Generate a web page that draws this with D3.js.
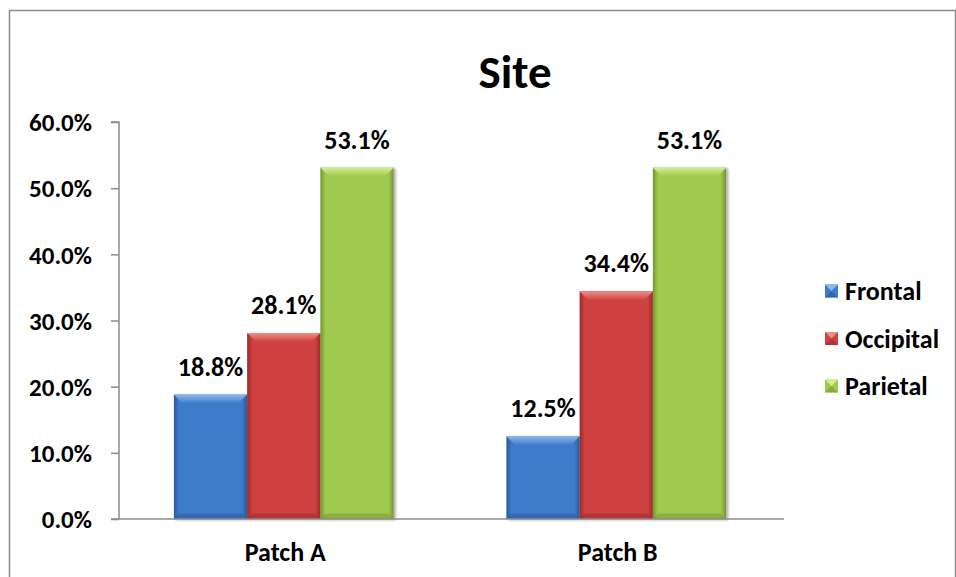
<!DOCTYPE html>
<html>
<head>
<meta charset="utf-8">
<script src="https://cdn.jsdelivr.net/npm/d3@7"></script>
<style>
  html, body { margin: 0; padding: 0; background: #fff; }
  svg text { font-family: Carlito, Calibri, Lato, "Open Sans", sans-serif; font-weight: bold; fill: #000; }
</style>
</head>
<body>
<svg id="chart" width="956" height="577"></svg>
<script>
const categories = ["Patch A", "Patch B"];
const seriesNames = ["Frontal", "Occipital", "Parietal"];
const frontal = [18.8, 12.5];
const occipital = [28.1, 34.4];
const parietal = [53.1, 53.1];
const yTicks = [0, 10, 20, 30, 40, 50, 60];
const seriesValues = [frontal, occipital, parietal];
const palette = {
  Frontal:   { base: "#3d7cc9", light: "#8fb8ec", dark: "#2a5a97" },
  Occipital: { base: "#cf4040", light: "#ec8e8a", dark: "#9a2b2b" },
  Parietal:  { base: "#9fc94f", light: "#d4ee8f", dark: "#749633" }
};
const labelSize = 26;

const svg = d3.select("#chart");
const defs = svg.append("defs");

// chart frame
svg.append("path")
  .attr("d", "M9.5,577 L9.5,10.5 L955.5,10.5 L955.5,577")
  .attr("fill", "none").attr("stroke", "#8c8c8c").attr("stroke-width", 1.5);

const plot = { left: 119, right: 784, top: 122, bottom: 519 };

const x0 = d3.scaleBand().domain(categories).range([plot.left, plot.right]).paddingInner(0).paddingOuter(0);
const x1 = d3.scaleBand().domain(seriesNames).range([0, x0.bandwidth()]).paddingInner(0).paddingOuter(0.77);
const y = d3.scaleLinear().domain([0, 60]).range([plot.bottom, plot.top]);

// gradients for bevelled bars
seriesNames.forEach(name => {
  const c = palette[name];
  const h = defs.append("linearGradient").attr("id", "h-" + name).attr("x1", 0).attr("x2", 1).attr("y1", 0).attr("y2", 0);
  h.append("stop").attr("offset", "0").attr("stop-color", c.dark);
  h.append("stop").attr("offset", "0.07").attr("stop-color", c.base);
  h.append("stop").attr("offset", "0.93").attr("stop-color", c.base);
  h.append("stop").attr("offset", "1").attr("stop-color", c.dark);
  const t = defs.append("linearGradient").attr("id", "t-" + name).attr("x1", 0).attr("x2", 0).attr("y1", 0).attr("y2", 1);
  t.append("stop").attr("offset", "0").attr("stop-color", c.light);
  t.append("stop").attr("offset", "1").attr("stop-color", c.base);
});

const shadow = defs.append("filter").attr("id", "shadow").attr("x", "-20%").attr("y", "-5%").attr("width", "140%").attr("height", "110%");
shadow.append("feGaussianBlur").attr("in", "SourceAlpha").attr("stdDeviation", 1.5).attr("result", "b");
shadow.append("feOffset").attr("in", "b").attr("dx", 2).attr("dy", 1).attr("result", "o");
shadow.append("feComponentTransfer").attr("in", "o").attr("result", "s")
  .append("feFuncA").attr("type", "linear").attr("slope", 0.35);
const mg = shadow.append("feMerge");
mg.append("feMergeNode").attr("in", "s");
mg.append("feMergeNode").attr("in", "SourceGraphic");

function bevelBar(g, name, bx, by, bw, bh, bevel) {
  const c = palette[name];
  const grp = g.append("g").attr("filter", "url(#shadow)");
  grp.append("rect").attr("x", bx).attr("y", by).attr("width", bw).attr("height", bh)
    .attr("fill", `url(#h-${name})`);
  const b = Math.min(bevel, bh / 2);
  grp.append("path")
    .attr("d", `M${bx},${by} L${bx + bw},${by} L${bx + bw - b},${by + b} L${bx + b},${by + b} Z`)
    .attr("fill", `url(#t-${name})`);
  grp.append("path")
    .attr("d", `M${bx},${by + bh} L${bx + bw},${by + bh} L${bx + bw - b * 0.6},${by + bh - b * 0.6} L${bx + b * 0.6},${by + bh - b * 0.6} Z`)
    .attr("fill", c.dark).attr("opacity", 0.5);
}

// bars
const bars = svg.append("g");
categories.forEach((cat, ci) => {
  seriesNames.forEach((name, si) => {
    const v = seriesValues[si][ci];
    const bx = x0(cat) + x1(name);
    const by = y(v);
    bevelBar(bars, name, bx - 1.5, by, x1.bandwidth(), y(0) - by, 9);
    svg.append("text")
      .attr("x", bx - 1.5 + x1.bandwidth() / 2)
      .attr("y", by - 19)
      .attr("text-anchor", "middle")
      .attr("font-size", labelSize)
      .text(v.toFixed(1) + "%");
  });
});

// y axis
const yAxis = d3.axisLeft(y).tickValues(yTicks).tickSize(8).tickPadding(19)
  .tickFormat(d => d.toFixed(1) + "%");
const ya = svg.append("g").attr("transform", `translate(${plot.left},0)`).call(yAxis);
ya.select(".domain").attr("stroke", "#8c8c8c").attr("stroke-width", 1.5).attr("d", `M-8,${plot.top}H0V${plot.bottom}`);
ya.selectAll(".tick line").attr("stroke", "#8c8c8c").attr("stroke-width", 1.5);
ya.selectAll(".tick text").attr("font-size", 25).attr("font-family", null).attr("fill", "#000").attr("dy", "0.35em");

// x axis
const xAxis = d3.axisBottom(x0).tickSize(0).tickPadding(24);
const xa = svg.append("g").attr("transform", `translate(0,${plot.bottom})`).call(xAxis);
xa.select(".domain").attr("stroke", "#8c8c8c").attr("stroke-width", 1.5).attr("d", `M${plot.left - 8},0H${plot.right}`);
xa.selectAll(".tick text").attr("font-size", labelSize).attr("font-family", null).attr("fill", "#000");

// title
svg.append("text").attr("x", 515).attr("y", 88).attr("text-anchor", "middle")
  .attr("font-size", 47).text("Site");

// legend
const legend = svg.append("g");
seriesNames.forEach((name, i) => {
  const ly = 291 + i * 47.5;
  const c = palette[name];
  const s = 13;
  const lx = 825;
  legend.append("rect").attr("x", lx).attr("y", ly - s / 2).attr("width", s).attr("height", s).attr("fill", c.base);
  legend.append("path").attr("d", `M${lx},${ly - s / 2} L${lx + s},${ly - s / 2} L${lx + s / 2},${ly} Z`).attr("fill", c.light);
  legend.append("path").attr("d", `M${lx},${ly + s / 2} L${lx + s},${ly + s / 2} L${lx + s / 2},${ly} Z`).attr("fill", c.dark).attr("opacity", 0.6);
  legend.append("text").attr("x", 845).attr("y", ly).attr("dy", "0.35em").attr("font-size", labelSize).text(name);
});
</script>
</body>
</html>
